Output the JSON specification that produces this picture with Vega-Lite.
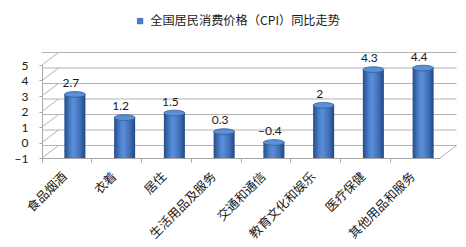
{
  "$schema": "https://vega.github.io/schema/vega-lite/v6.json",
  "autosize": "none",
  "width": 398,
  "height": 93,
  "padding": {"left": 42, "top": 65, "right": 26, "bottom": 89},
  "background": "white",
  "config": {"view": {"stroke": null}, "axisY": {"labelOverlap": false, "labelFlush": false}},
  "datasets": {
    "cpi": [
      {"cat": "食品烟酒", "v": 2.7},
      {"cat": "衣着", "v": 1.2},
      {"cat": "居住", "v": 1.5},
      {"cat": "生活用品及服务", "v": 0.3},
      {"cat": "交通和通信", "v": -0.4},
      {"cat": "教育文化和娱乐", "v": 2},
      {"cat": "医疗保健", "v": 4.3},
      {"cat": "其他用品和服务", "v": 4.4}
    ],
    "grid": [{"g": -1}, {"g": 0}, {"g": 1}, {"g": 2}, {"g": 3}, {"g": 4}, {"g": 5}]
  },
  "layer": [
    {
      "data": {"name": "grid"},
      "mark": {"type": "rule", "color": "#b3b3b3", "strokeWidth": 1, "xOffset": 16.5, "yOffset": -12.5},
      "encoding": {
        "y": {"field": "g", "type": "quantitative",
          "scale": {"domain": [-1, 5], "nice": false, "zero": false},
          "axis": {"title": null, "values": [-1, 0, 1, 2, 3, 4, 5], "tickCount": 7, "grid": false, "tickSize": 3, "labelPadding": 11, "labelOverlap": false, "labelFlush": false, "labelBound": false,
            "tickColor": "#a6a6a6", "domainColor": "#a6a6a6", "labelFont": "Lato", "labelFontSize": 12, "labelColor": "#1a1a1a"}}
      }
    },
    {
      "data": {"name": "grid"},
      "mark": {"type": "point", "shape": "m0,0 l1,-0.758", "size": 1089, "filled": false, "stroke": "#b3b3b3", "strokeWidth": 1, "opacity": 1},
      "encoding": {
        "x": {"datum": "食品烟酒", "type": "nominal", "bandPosition": 0,
          "scale": {"domain": ["食品烟酒", "衣着", "居住", "生活用品及服务", "交通和通信", "教育文化和娱乐", "医疗保健", "其他用品和服务"], "paddingInner": 0, "paddingOuter": 0},
          "axis": {"title": null, "bandPosition": 0, "labelOffset": -2, "labelAngle": -45, "labelAlign": "right", "labelBaseline": "middle",
            "tickSize": 4, "tickColor": "#a6a6a6", "domainColor": "#a6a6a6", "labelPadding": 12,
            "labelFont": "Noto Sans CJK SC", "labelFontSize": 12.5, "labelColor": "#1a1a1a"}},
        "y": {"field": "g", "type": "quantitative", "axis": {"labelOverlap": false}}
      }
    },
    {
      "data": {"values": [{"g": -1}]},
      "mark": {"type": "point", "shape": "m0,0 l1,-0.758", "size": 1089, "filled": false, "stroke": "#b3b3b3", "strokeWidth": 1, "opacity": 1},
      "encoding": {
        "x": {"datum": "其他用品和服务", "type": "nominal", "bandPosition": 1},
        "y": {"field": "g", "type": "quantitative", "axis": {"labelOverlap": false}}
      }
    },
    {
      "data": {"name": "cpi"},
      "mark": {"type": "point", "shape": "square", "size": 36, "filled": true, "opacity": 1, "xOffset": 8, "yOffset": -10},
      "encoding": {
        "x": {"field": "cat", "type": "nominal"},
        "y": {"datum": -1, "type": "quantitative", "axis": {"labelOverlap": false}},
        "color": {"datum": "全国居民消费价格（CPI）同比走势", "type": "nominal",
          "scale": {"range": ["#4a7ebb"]},
          "legend": {"title": null, "orient": "none", "legendX": 92, "legendY": -50, "symbolType": "square", "symbolSize": 40, "symbolStrokeWidth": 0,
            "labelFont": "Noto Sans CJK SC", "labelFontSize": 12.2, "labelLimit": 400, "labelColor": "#1a1a1a"}}
      }
    },
    {
      "data": {"name": "cpi"},
      "mark": {"type": "point", "shape": "M-1,0 C-1,-0.15 -0.552,-0.27 0,-0.27 C0.552,-0.27 1,-0.15 1,0 C1,0.15 0.552,0.27 0,0.27 C-0.552,0.27 -1,0.15 -1,0", "size": 441, "filled": false, "opacity": 1, "strokeWidth": 0, "xOffset": 8, "yOffset": -6.2,
        "fill": {"gradient": "linear", "x1": 0, "y1": 0, "x2": 1, "y2": 0, "stops": [{"offset": 0, "color": "#254c88"}, {"offset": 0.3, "color": "#4e82cd"}, {"offset": 0.45, "color": "#5a8ed8"}, {"offset": 0.75, "color": "#3f6fb8"}, {"offset": 1, "color": "#224783"}]}},
      "encoding": {
        "x": {"field": "cat", "type": "nominal"},
        "y": {"datum": -1, "type": "quantitative", "axis": {"labelOverlap": false}}
      }
    },
    {
      "data": {"name": "cpi"},
      "mark": {"type": "bar", "width": 21, "xOffset": 8, "yOffset": -6.2,
        "fill": {"gradient": "linear", "x1": 0, "y1": 0, "x2": 1, "y2": 0, "stops": [{"offset": 0, "color": "#254c88"}, {"offset": 0.3, "color": "#4e82cd"}, {"offset": 0.45, "color": "#5a8ed8"}, {"offset": 0.75, "color": "#3f6fb8"}, {"offset": 1, "color": "#224783"}]}},
      "encoding": {
        "x": {"field": "cat", "type": "nominal"},
        "y": {"field": "v", "type": "quantitative", "axis": {"labelOverlap": false}},
        "y2": {"datum": -1}
      }
    },
    {
      "data": {"name": "cpi"},
      "mark": {"type": "point", "shape": "M-1,0 C-1,-0.15 -0.552,-0.27 0,-0.27 C0.552,-0.27 1,-0.15 1,0 C1,0.15 0.552,0.27 0,0.27 C-0.552,0.27 -1,0.15 -1,0", "size": 441, "filled": false, "opacity": 1, "fill": "#5d8fd6", "stroke": "#2f5a9a", "strokeWidth": 0.8, "xOffset": 8, "yOffset": -6.2},
      "encoding": {
        "x": {"field": "cat", "type": "nominal"},
        "y": {"field": "v", "type": "quantitative", "axis": {"labelOverlap": false}}
      }
    },
    {
      "data": {"name": "cpi"},
      "mark": {"type": "text", "xOffset": 4, "yOffset": -17.5, "baseline": "middle", "font": "Lato", "fontSize": 12, "color": "#1a1a1a"},
      "encoding": {
        "x": {"field": "cat", "type": "nominal"},
        "y": {"field": "v", "type": "quantitative", "axis": {"labelOverlap": false}},
        "text": {"field": "v", "type": "quantitative"}
      }
    }
  ]
}
